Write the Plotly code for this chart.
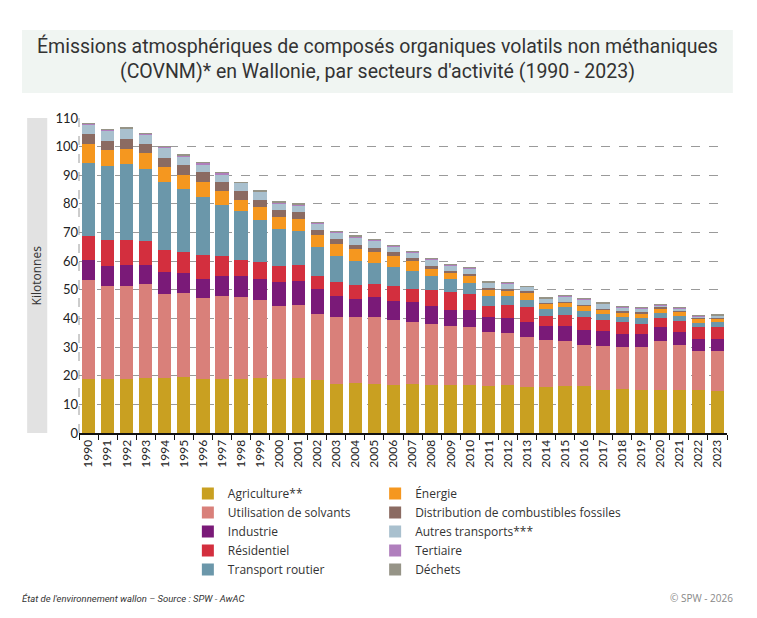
import plotly.graph_objects as go

years = [str(y) for y in range(1990, 2024)]

# kilotonnes par secteur
agriculture = [18.9, 19.0, 18.9, 19.1, 19.1, 19.4, 18.9, 18.9, 18.9, 19.2,
               18.9, 19.2, 18.4, 17.2, 17.5, 17.2, 16.9, 17.2, 16.9, 16.9,
               16.9, 16.5, 16.9, 15.9, 15.9, 16.3, 16.3, 15.1, 15.5, 15.1,
               15.1, 14.9, 14.9, 14.6]
solvants = [34.7, 32.2, 32.6, 33.1, 29.6, 29.6, 28.4, 29.1, 28.5, 27.1,
            25.3, 25.4, 23.3, 23.2, 22.9, 23.2, 22.7, 21.6, 21.3, 20.6,
            20.2, 18.9, 18.0, 17.5, 16.5, 15.7, 14.5, 15.2, 14.4, 14.8,
            17.1, 15.9, 13.9, 14.2]
industrie = [6.9, 7.0, 7.1, 6.4, 7.6, 6.8, 6.6, 6.7, 7.3, 7.6,
             8.7, 8.6, 8.7, 7.6, 6.5, 7.0, 6.6, 7.0, 6.3, 5.6,
             6.0, 5.2, 5.3, 5.2, 4.9, 5.3, 5.1, 5.2, 4.8, 4.8,
             4.8, 4.6, 4.1, 4.1]
residentiel = [8.2, 9.3, 8.9, 8.6, 7.7, 7.3, 8.1, 7.0, 5.8, 5.7,
               5.5, 5.6, 4.5, 4.6, 4.9, 4.8, 5.0, 4.6, 5.6, 6.1,
               5.6, 3.9, 4.6, 5.3, 3.4, 4.0, 4.5, 4.1, 3.9, 3.5,
               3.2, 3.8, 4.0, 4.2]
transport_routier = [25.6, 25.6, 26.6, 25.0, 23.8, 22.1, 20.4, 18.0, 16.9, 14.9,
                     12.8, 11.9, 10.1, 9.3, 8.4, 7.2, 6.7, 6.1, 4.8, 4.6,
                     3.7, 3.5, 3.2, 2.7, 2.6, 2.6, 2.3, 2.1, 1.9, 2.1,
                     1.7, 1.8, 1.5, 1.7]
energie = [6.5, 5.6, 5.2, 5.5, 5.0, 5.0, 5.1, 4.7, 4.1, 4.3,
           4.2, 4.2, 4.0, 4.2, 4.2, 3.8, 4.0, 3.5, 2.5, 2.1,
           2.5, 2.1, 1.8, 2.3, 1.8, 1.5, 1.8, 1.4, 1.6, 1.6,
           1.5, 1.4, 1.5, 1.1]
distribution = [3.7, 3.4, 3.5, 3.3, 3.4, 3.5, 3.5, 3.1, 2.9, 2.5,
                2.4, 2.2, 1.8, 1.8, 1.4, 1.4, 1.2, 1.1, 0.8, 0.6,
                0.6, 0.7, 0.5, 0.6, 0.3, 0.4, 0.3, 0.2, 0.4, 0.5,
                0.5, 0.3, 0.4, 0.6]
autres_transports = [3.4, 3.6, 3.4, 3.3, 3.5, 2.9, 2.9, 2.8, 2.9, 2.9,
                     2.5, 2.4, 2.3, 2.2, 2.5, 2.6, 2.1, 1.8, 2.3, 2.1,
                     1.9, 1.6, 1.9, 1.5, 1.5, 1.7, 1.8, 1.8, 1.4, 1.1,
                     0.7, 0.7, 0.4, 0.5]
tertiaire = [0.2, 0.2, 0.3, 0.2, 0.3, 0.4, 0.6, 0.6, 0.2, 0.3,
             0.3, 0.4, 0.4, 0.2, 0.4, 0.3, 0.3, 0.4, 0.3, 0.3,
             0.3, 0.3, 0.3, 0.2, 0.2, 0.5, 0.2, 0.2, 0.2, 0.3,
             0.2, 0.4, 0.3, 0.2]
dechets = [0.1] * 34

series = [
    ("Agriculture**", agriculture, "#c9a021", "legend"),
    ("Utilisation de solvants", solvants, "#d9807a", "legend"),
    ("Industrie", industrie, "#7a1a78", "legend"),
    ("Résidentiel", residentiel, "#d32f3e", "legend"),
    ("Transport routier", transport_routier, "#6b97aa", "legend"),
    ("Énergie", energie, "#f5971f", "legend2"),
    ("Distribution de combustibles fossiles", distribution, "#8b6b62", "legend2"),
    ("Autres transports***", autres_transports, "#a9c0ce", "legend2"),
    ("Tertiaire", tertiaire, "#b07fbd", "legend2"),
    ("Déchets", dechets, "#969487", "legend2"),
]

fig = go.Figure()
for name, vals, col, leg in series:
    fig.add_trace(go.Bar(x=years, y=vals, name=name, marker_color=col,
                         marker_line_width=0, legend=leg))

legend_style = dict(orientation="v", traceorder="normal", bgcolor="rgba(0,0,0,0)",
                    font=dict(family="Open Sans", size=12, color="#333"),
                    xanchor="left", yanchor="top", tracegroupgap=0)

# la page ajoute 8px de marge (body), d'ou les marges decalees
fig.update_layout(
    width=757, height=618,
    barmode="stack", bargap=0.3,
    paper_bgcolor="white", plot_bgcolor="white",
    margin=dict(l=71, r=38, t=110, b=193, autoexpand=False),
    font=dict(family="Lato", size=13, color="#222"),
    legend=dict(x=0.168, y=-0.146, **legend_style),
    legend2=dict(x=0.457, y=-0.146, **legend_style),
    xaxis=dict(type="category", tickangle=-90, showgrid=False,
               showline=True, linecolor="#111", linewidth=2,
               ticks="outside", tickson="boundaries", ticklen=5, tickcolor="#111",
               tickfont=dict(size=12)),
    yaxis=dict(range=[0, 110], dtick=10, showgrid=True, gridcolor="#9a9a9a",
               griddash="dash", gridwidth=1, zeroline=False, showline=False,
               ticks="", tickfont=dict(size=13)),
)

# ligne verticale en tirets pour l'axe y
fig.add_shape(type="line", xref="paper", yref="y", x0=0, x1=0, y0=0, y1=110,
              line=dict(color="#9a9a9a", width=1, dash="dash"), layer="below")

# bandeau titre
fig.add_shape(type="rect", xref="paper", yref="paper",
              x0=-0.088, x1=1.009, y0=1.079, y1=1.279,
              fillcolor="#f0f5f2", line_width=0, layer="below")
fig.add_annotation(xref="paper", yref="paper", x=0.461, y=1.19, yanchor="middle",
                   showarrow=False,
                   text="Émissions atmosphériques de composés organiques volatils non méthaniques"
                        "<br>(COVNM)* en Wallonie, par secteurs d'activité (1990 - 2023)",
                   font=dict(family="Roboto", size=19.5, color="#333"))

# bandeau titre axe y
fig.add_shape(type="rect", xref="paper", yref="paper",
              x0=-0.080, x1=-0.049, y0=0, y1=1.0,
              fillcolor="#e2e2e2", line_width=0, layer="below")
fig.add_annotation(xref="paper", yref="paper", x=-0.065, y=0.5, xanchor="center",
                   yanchor="middle", showarrow=False,
                   text="Kilotonnes", textangle=-90,
                   font=dict(family="Open Sans", size=12, color="#333"))

# pied de page
fig.add_annotation(xref="paper", yref="paper", x=-0.091, y=-0.524, xanchor="left",
                   yanchor="middle", showarrow=False,
                   text="<i>État de l'environnement wallon – Source : SPW - AwAC</i>",
                   font=dict(family="Roboto", size=9.5, color="#333"))
fig.add_annotation(xref="paper", yref="paper", x=1.012, y=-0.524, xanchor="right",
                   yanchor="middle", showarrow=False, text="© SPW - 2026",
                   font=dict(family="Open Sans", size=10, color="#888"))

fig.write_html("out.html")
